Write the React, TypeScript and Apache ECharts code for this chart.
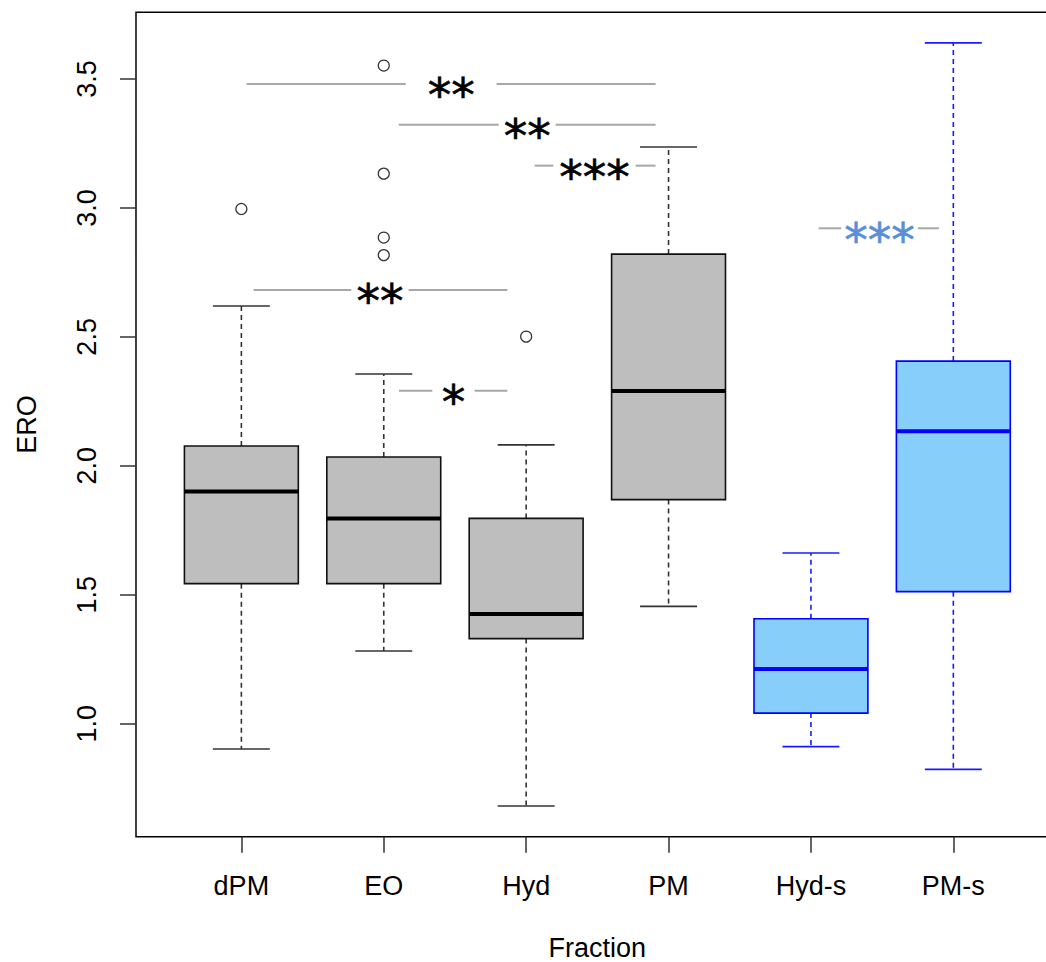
import React, { useEffect, useRef } from "react";
import * as echarts from "echarts";

// ---- data ----
const categories = ["dPM", "EO", "Hyd", "PM", "Hyd-s", "PM-s"];
const whiskerLow = [0.902, 1.282, 0.681, 1.455, 0.911, 0.823];
const q1Values = [1.543, 1.543, 1.33, 1.869, 1.041, 1.512];
const medianValues = [1.9, 1.796, 1.425, 2.29, 1.212, 2.134];
const q3Values = [2.077, 2.034, 1.796, 2.821, 1.407, 2.406];
const whiskerHigh = [2.62, 2.356, 2.081, 3.236, 1.662, 3.64];
const boxGroup = [0, 0, 0, 0, 1, 1]; // 0 = gray, 1 = blue

const outlierCategory = ["dPM", "EO", "EO", "EO", "EO", "Hyd"];
const outlierValues = [2.996, 3.552, 3.133, 2.885, 2.817, 2.501];

const yTicks = [1.0, 1.5, 2.0, 2.5, 3.0, 3.5];

// significance annotations: y level, line start, gap start, gap end, line end (x in category units)
const sigY = [3.481, 3.323, 3.164, 2.682, 2.291, 2.921];
const sigLineStart = [1.037, 2.105, 3.06, 1.086, 2.107, 5.054];
const sigGapStart = [2.154, 2.807, 3.191, 1.772, 2.341, 5.213];
const sigGapEnd = [2.793, 3.207, 3.769, 2.175, 2.638, 5.751];
const sigLineEnd = [3.909, 3.909, 3.909, 2.868, 2.868, 5.899];
const sigLabels = ["**", "**", "***", "**", "*", "***"];
const sigGroup = [0, 0, 0, 0, 0, 1];

const boxFill = ["#bebebe", "#87cefa"];
const boxStroke = ["#111111", "#0000ff"];
const whiskerStroke = ["#333333", "#1a1aff"];
const starColor = ["#000000", "#5a8ed8"];
const FONT = "'Liberation Sans', Arial, sans-serif";
const STAR_FONT = "'DejaVu Sans', sans-serif";

export default function App() {
  const ref = useRef<HTMLDivElement>(null);

  useEffect(() => {
    if (!ref.current) return;
    const chart = echarts.init(ref.current, undefined, { renderer: "svg" });

    const boxData = categories.map((_, i) => [
      i + 1,
      whiskerLow[i],
      q1Values[i],
      medianValues[i],
      q3Values[i],
      whiskerHigh[i],
      boxGroup[i],
    ]);
    const outlierData = outlierValues.map((v, i) => [
      categories.indexOf(outlierCategory[i]) + 1,
      v,
    ]);
    const sigData = sigY.map((y, i) => [
      y,
      sigLineStart[i],
      sigGapStart[i],
      sigGapEnd[i],
      sigLineEnd[i],
      sigGroup[i],
      i,
    ]);

    const catTicks = categories.map((_, i) => i + 1);

    const option: any = {
      animation: false,
      backgroundColor: "#ffffff",
      grid: {
        left: 136,
        top: 12.3,
        width: 922.7,
        height: 824.4,
        show: true,
        borderColor: "#000000",
        borderWidth: 1.5,
        backgroundColor: "transparent",
        containLabel: false,
        outerBoundsMode: "none",
      },
      xAxis: {
        type: "value",
        min: 0.26,
        max: 6.74,
        axisLine: { show: false },
        splitLine: { show: false },
        axisTick: {
          show: true,
          customValues: catTicks,
          length: 16,
          lineStyle: { color: "#333333", width: 1.5 },
        },
        axisLabel: {
          customValues: catTicks,
          formatter: (v: number) => categories[Math.round(v) - 1] ?? "",
          fontSize: 27,
          color: "#000000",
          fontFamily: FONT,
          margin: 36,
        },
        name: "Fraction",
        nameLocation: "middle",
        nameGap: 98,
        nameTextStyle: { fontSize: 27, color: "#000000", fontFamily: FONT },
      },
      yAxis: {
        type: "value",
        min: 0.5618,
        max: 3.7586,
        axisLine: { show: false },
        splitLine: { show: false },
        axisTick: {
          show: true,
          customValues: yTicks,
          length: 16,
          lineStyle: { color: "#333333", width: 1.5 },
        },
        axisLabel: {
          customValues: yTicks,
          formatter: (v: number) => v.toFixed(1),
          rotate: 90,
          fontSize: 27,
          color: "#000000",
          fontFamily: FONT,
          margin: 36,
        },
        name: "ERO",
        nameLocation: "middle",
        nameGap: 96,
        nameRotate: 90,
        nameTextStyle: { fontSize: 27, color: "#000000", fontFamily: FONT },
      },
      series: [
        {
          type: "custom",
          name: "boxes",
          data: boxData,
          clip: false,
          encode: { x: 0, y: [1, 5] },
          renderItem: (params: any, api: any) => {
            const x = api.value(0);
            const lo = api.value(1);
            const q1 = api.value(2);
            const med = api.value(3);
            const q3 = api.value(4);
            const hi = api.value(5);
            const g = api.value(6);
            const half = 0.4;
            const capHalf = 0.2;
            const pTL = api.coord([x - half, q3]);
            const pBR = api.coord([x + half, q1]);
            const pHi = api.coord([x, hi]);
            const pLo = api.coord([x, lo]);
            const pQ3 = api.coord([x, q3]);
            const pQ1 = api.coord([x, q1]);
            const capL = api.coord([x - capHalf, hi]);
            const capR = api.coord([x + capHalf, hi]);
            const capL2 = api.coord([x - capHalf, lo]);
            const capR2 = api.coord([x + capHalf, lo]);
            const mL = api.coord([x - half, med]);
            const mR = api.coord([x + half, med]);
            const wStyle = {
              stroke: whiskerStroke[g],
              lineWidth: 1.6,
              lineDash: [5, 4],
            };
            const cStyle = { stroke: whiskerStroke[g], lineWidth: 1.6 };
            return {
              type: "group",
              children: [
                {
                  type: "line",
                  shape: { x1: pQ3[0], y1: pQ3[1], x2: pHi[0], y2: pHi[1] },
                  style: wStyle,
                },
                {
                  type: "line",
                  shape: { x1: pQ1[0], y1: pQ1[1], x2: pLo[0], y2: pLo[1] },
                  style: wStyle,
                },
                {
                  type: "line",
                  shape: { x1: capL[0], y1: capL[1], x2: capR[0], y2: capR[1] },
                  style: cStyle,
                },
                {
                  type: "line",
                  shape: { x1: capL2[0], y1: capL2[1], x2: capR2[0], y2: capR2[1] },
                  style: cStyle,
                },
                {
                  type: "rect",
                  shape: {
                    x: pTL[0],
                    y: pTL[1],
                    width: pBR[0] - pTL[0],
                    height: pBR[1] - pTL[1],
                  },
                  style: { fill: boxFill[g], stroke: boxStroke[g], lineWidth: 1.6 },
                },
                {
                  type: "line",
                  shape: { x1: mL[0], y1: mL[1], x2: mR[0], y2: mR[1] },
                  style: { stroke: g === 1 ? "#0000ff" : "#000000", lineWidth: 4 },
                },
              ],
            };
          },
          z: 2,
        },
        {
          type: "scatter",
          name: "outliers",
          data: outlierData,
          symbol: "circle",
          symbolSize: 11,
          itemStyle: { color: "#ffffff", borderColor: "#000000", borderWidth: 1.2 },
          z: 3,
        },
        {
          type: "custom",
          name: "significance",
          data: sigData,
          clip: false,
          encode: { x: [1, 4], y: 0 },
          renderItem: (params: any, api: any) => {
            const y = api.value(0);
            const a = api.coord([api.value(1), y]);
            const b = api.coord([api.value(2), y]);
            const c = api.coord([api.value(3), y]);
            const d = api.coord([api.value(4), y]);
            const g = api.value(5);
            const idx = api.value(6);
            const cx = (b[0] + c[0]) / 2;
            const lStyle = { stroke: "#a8a8a8", lineWidth: 2 };
            return {
              type: "group",
              children: [
                { type: "line", shape: { x1: a[0], y1: a[1], x2: b[0], y2: b[1] }, style: lStyle },
                { type: "line", shape: { x1: c[0], y1: c[1], x2: d[0], y2: d[1] }, style: lStyle },
                {
                  type: "text",
                  x: cx,
                  y: a[1] + 11,
                  style: {
                    text: sigLabels[idx],
                    fill: starColor[g],
                    stroke: starColor[g],
                    lineWidth: 0.6,
                    font: `normal 47px ${STAR_FONT}`,
                    align: "center",
                    verticalAlign: "middle",
                  },
                },
              ],
            };
          },
          z: 4,
        },
      ],
    };

    chart.setOption(option);
    return () => chart.dispose();
  }, []);

  return (
    <div
      ref={ref}
      style={{ position: "absolute", left: 0, top: 0, width: 1046, height: 962, background: "#fff" }}
    />
  );
}
